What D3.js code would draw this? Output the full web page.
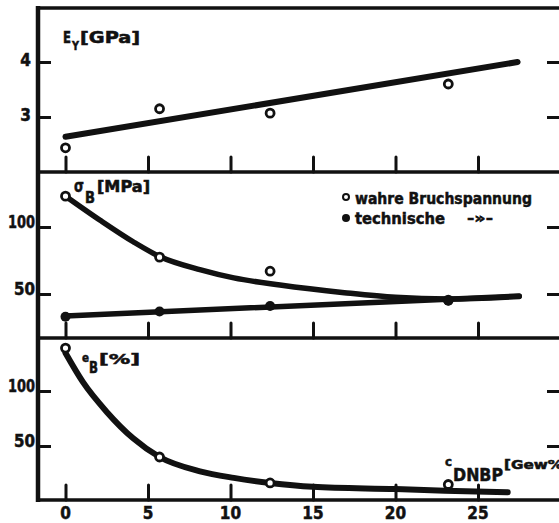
<!DOCTYPE html>
<html>
<head>
<meta charset="utf-8">
<script src="https://cdn.jsdelivr.net/npm/d3@7"></script>
<style>
  html, body { margin: 0; padding: 0; background: #fff; }
  svg { display: block; }
  text { font-family: 'DejaVu Sans Condensed', 'DejaVu Sans', sans-serif; font-weight: bold; fill: #111; stroke: #111; stroke-width: 0.5; }
</style>
</head>
<body>
<svg id="chart" width="559" height="523"></svg>
<script>
// DNBP content (Gew%) of the samples
const conc = [0, 5.7, 12.4, 23.2];

// Young's modulus E_Y [GPa]
const modulus = [2.44, 3.15, 3.07, 3.6];
const modulusFit = [[0, 2.64], [27.4, 4.0]];

// true and engineering stress at break [MPa]
const trueStress = [123, 77.5, 67, 45.5];
const techStress = [33, 37, 41, 45];
const trueStressCurve = [[0, 123], [2.1, 105], [4.1, 89], [5.7, 78], [8.2, 68], [10.2, 62],
                         [13, 56.7], [16.9, 51], [20, 47.5], [23.2, 46.3], [27.5, 48.2]];
const techStressFit = [[0, 33.6], [27.5, 48.5]];

// elongation at break e_B [%]
const elongation = [139, 40, 16.4, 15];
const elongationCurve = [[0, 134.5], [1.06, 108], [2.5, 81], [4.1, 57], [5.7, 40], [8.15, 27],
                         [10.2, 21], [12.4, 16.4], [15, 12.9], [20, 10.8], [23, 9.3], [26.8, 8]];

// axis ticks
const xTicks = [0, 5, 10, 15, 20, 25];
const ticksE = [3, 4];
const ticksStress = [50, 100];
const ticksElong = [50, 100];

const svg = d3.select('#chart');
const ink = '#111';

const left = 38, right = 561;
const x = d3.scaleLinear().domain([0, 25]).range([65.5, 478]);

// three stacked panels sharing the concentration axis
const panels = [
  { top: 8,   bottom: 172, y: d3.scaleLinear().domain([3, 4]).range([117, 62]), ticks: ticksE },
  { top: 172, bottom: 338, y: d3.scaleLinear().domain([50, 100]).range([294, 227]), ticks: ticksStress },
  { top: 338, bottom: 500, y: d3.scaleLinear().domain([50, 100]).range([446, 391]), ticks: ticksElong }
];

// frame: left axis, top border and panel separators
svg.append('line').attr('x1', left).attr('x2', left).attr('y1', 6).attr('y2', 502)
  .attr('stroke', ink).attr('stroke-width', 4.5);
[8, 172, 338, 500].forEach(yy => {
  svg.append('line').attr('x1', left - 2).attr('x2', right).attr('y1', yy).attr('y2', yy)
    .attr('stroke', ink).attr('stroke-width', 3.5);
});

panels.forEach((p, i) => {
  // x ticks rising from each panel's bottom edge
  const g = svg.append('g').attr('transform', `translate(0,${p.bottom})`);
  g.call(d3.axisTop(x).tickValues(xTicks).tickSize(15).tickFormat(''));
  g.select('.domain').remove();
  g.selectAll('.tick line').attr('stroke', ink).attr('stroke-width', 3).attr('stroke-linecap', 'round');

  // left y ticks with labels
  const gl = svg.append('g').attr('transform', `translate(${left},0)`);
  gl.call(d3.axisRight(p.y).tickValues(p.ticks).tickSize(13).tickFormat(''));
  gl.select('.domain').remove();
  gl.selectAll('.tick line').attr('stroke', ink).attr('stroke-width', 3);

  p.ticks.forEach(t => {
    const lab = svg.append('text')
      .attr('x', i === 0 ? 31 : 35)
      .attr('y', p.y(t) + (i === 0 ? 4 : 1))
      .attr('text-anchor', 'end')
      .attr('font-size', 17)
      .text(t);
    if (String(t).length === 3) lab.attr('textLength', 27).attr('lengthAdjust', 'spacingAndGlyphs');
    if (String(t).length === 2) lab.attr('textLength', 21).attr('lengthAdjust', 'spacingAndGlyphs');
  });

  // right y ticks
  const gr = svg.append('g').attr('transform', `translate(559,0)`);
  gr.call(d3.axisLeft(p.y).tickValues(p.ticks).tickSize(12).tickFormat(''));
  gr.select('.domain').remove();
  gr.selectAll('.tick line').attr('stroke', ink).attr('stroke-width', 3);
});

// bottom tick labels
svg.append('g').selectAll('text').data(xTicks).join('text')
  .attr('x', d => x(d)).attr('y', 519)
  .attr('text-anchor', 'middle').attr('font-size', 17)
  .text(d => d);

const line = (ys, curve) => d3.line().x(d => x(d[0])).y(d => ys(d[1])).curve(curve);

function openPoints(yScale, vals, r = 4) {
  svg.append('g').selectAll('circle').data(vals).join('circle')
    .attr('cx', (d, i) => x(conc[i])).attr('cy', d => yScale(d))
    .attr('r', r).attr('fill', '#fff').attr('stroke', ink).attr('stroke-width', 2.8);
}

// panel 1: modulus
const y1 = panels[0].y;
svg.append('path').datum(modulusFit).attr('d', line(y1, d3.curveLinear))
  .attr('fill', 'none').attr('stroke', ink).attr('stroke-width', 6).attr('stroke-linecap', 'round');
openPoints(y1, modulus);

// panel 2: stresses
const y2 = panels[1].y;
svg.append('path').datum(trueStressCurve).attr('d', line(y2, d3.curveMonotoneX))
  .attr('fill', 'none').attr('stroke', ink).attr('stroke-width', 5.5).attr('stroke-linecap', 'round');
svg.append('path').datum(techStressFit).attr('d', line(y2, d3.curveLinear))
  .attr('fill', 'none').attr('stroke', ink).attr('stroke-width', 5.5).attr('stroke-linecap', 'round');
openPoints(y2, trueStress);
svg.append('g').selectAll('circle').data(techStress).join('circle')
  .attr('cx', (d, i) => x(conc[i])).attr('cy', d => y2(d))
  .attr('r', 5).attr('fill', ink);

// panel 3: elongation
const y3 = panels[2].y;
svg.append('path').datum(elongationCurve).attr('d', line(y3, d3.curveMonotoneX))
  .attr('fill', 'none').attr('stroke', ink).attr('stroke-width', 6).attr('stroke-linecap', 'round');
openPoints(y3, elongation);

// quantity labels
svg.append('text').attr('x', 63).attr('y', 43).attr('font-size', 16)
  .attr('textLength', 8).attr('lengthAdjust', 'spacingAndGlyphs').text('E');
svg.append('text').attr('x', 72).attr('y', 50).attr('font-size', 12)
  .attr('textLength', 7).attr('lengthAdjust', 'spacingAndGlyphs').text('Y');
svg.append('text').attr('x', 80).attr('y', 43).attr('font-size', 16)
  .attr('textLength', 60).attr('lengthAdjust', 'spacingAndGlyphs').text('[GPa]');

svg.append('text').attr('x', 74).attr('y', 192).attr('font-size', 18).attr('font-weight', 'normal')
  .attr('textLength', 10).attr('lengthAdjust', 'spacingAndGlyphs').text('σ');
svg.append('text').attr('x', 85).attr('y', 203).attr('font-size', 15)
  .attr('textLength', 10).attr('lengthAdjust', 'spacingAndGlyphs').text('B');
svg.append('text').attr('x', 97).attr('y', 192).attr('font-size', 15)
  .attr('textLength', 53).attr('lengthAdjust', 'spacingAndGlyphs').text('[MPa]');

svg.append('text').attr('x', 82).attr('y', 362).attr('font-size', 13)
  .attr('textLength', 7).attr('lengthAdjust', 'spacingAndGlyphs').text('e');
svg.append('text').attr('x', 89).attr('y', 373).attr('font-size', 15)
  .attr('textLength', 9).attr('lengthAdjust', 'spacingAndGlyphs').text('B');
svg.append('text').attr('x', 99).attr('y', 364).attr('font-size', 14)
  .attr('textLength', 41).attr('lengthAdjust', 'spacingAndGlyphs').text('[%]');

svg.append('text').attr('x', 445).attr('y', 466).attr('font-size', 13).attr('font-weight', 'normal')
  .attr('textLength', 7).attr('lengthAdjust', 'spacingAndGlyphs').text('c');
svg.append('text').attr('x', 453).attr('y', 481).attr('font-size', 18).attr('font-weight', 'normal')
  .attr('textLength', 50).attr('lengthAdjust', 'spacingAndGlyphs').text('DNBP');
svg.append('text').attr('x', 504).attr('y', 469).attr('font-size', 12)
  .attr('textLength', 66).attr('lengthAdjust', 'spacingAndGlyphs').text('[Gew%]');

// legend
svg.append('circle').attr('cx', 346).attr('cy', 197).attr('r', 3).attr('fill', '#fff')
  .attr('stroke', ink).attr('stroke-width', 2);
svg.append('text').attr('x', 355).attr('y', 204).attr('font-size', 16)
  .attr('textLength', 177).attr('lengthAdjust', 'spacingAndGlyphs').text('wahre Bruchspannung');
svg.append('circle').attr('cx', 346).attr('cy', 218).attr('r', 4).attr('fill', ink);
svg.append('text').attr('x', 355).attr('y', 224).attr('font-size', 16)
  .attr('textLength', 90).attr('lengthAdjust', 'spacingAndGlyphs').text('technische');
svg.append('text').attr('x', 467).attr('y', 223).attr('font-size', 14)
  .attr('textLength', 26).attr('lengthAdjust', 'spacingAndGlyphs').text('-»-');
</script>
</body>
</html>
